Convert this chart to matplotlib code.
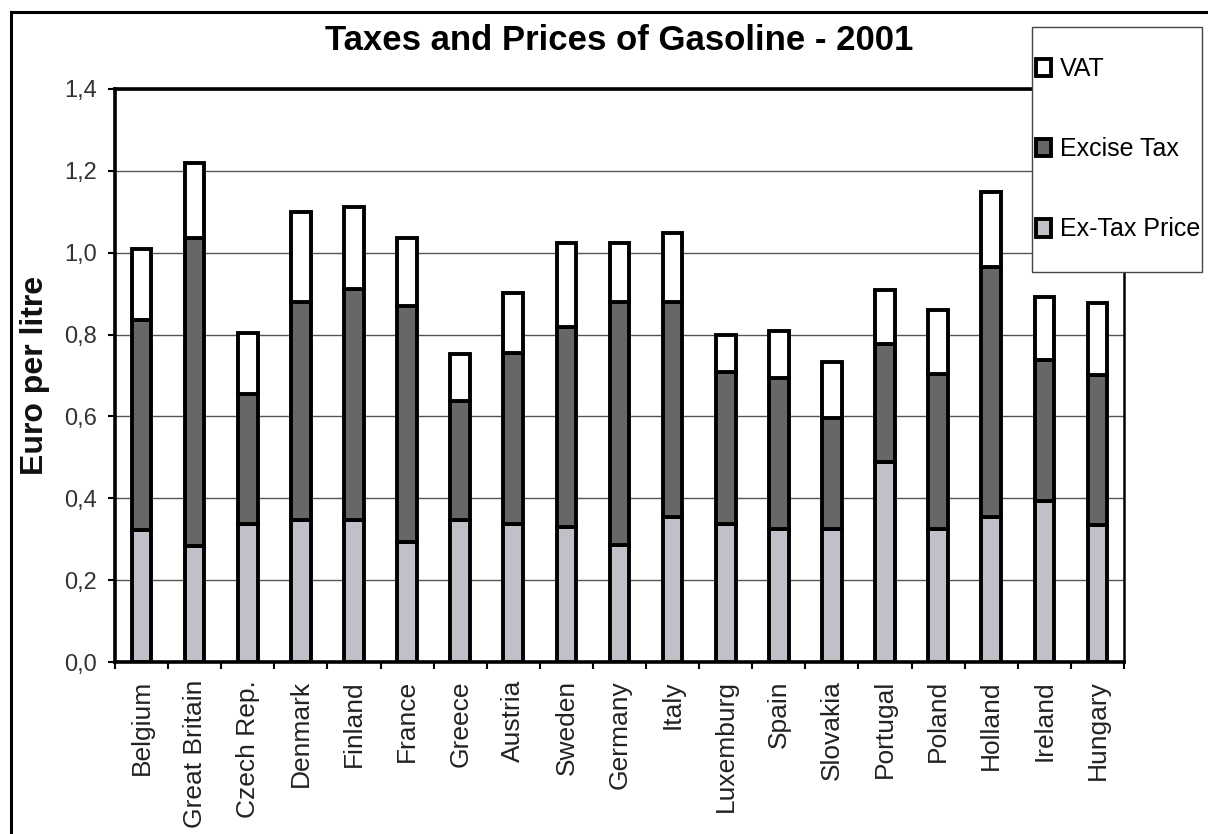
import matplotlib
matplotlib.use("Agg")
import matplotlib.pyplot as plt
from matplotlib.lines import Line2D
from matplotlib.patches import Rectangle
import numpy as np

countries = ["Belgium", "Great Britain", "Czech Rep.", "Denmark", "Finland", "France",
             "Greece", "Austria", "Sweden", "Germany", "Italy", "Luxemburg", "Spain",
             "Slovakia", "Portugal", "Poland", "Holland", "Ireland", "Hungary"]
# cumulative tops
ex_tax_price = [0.323, 0.284, 0.336, 0.346, 0.348, 0.293, 0.346, 0.338, 0.330, 0.285,
                0.355, 0.338, 0.325, 0.325, 0.488, 0.325, 0.355, 0.393, 0.335]
excise_top = [0.835, 1.037, 0.656, 0.880, 0.912, 0.870, 0.638, 0.754, 0.819, 0.880,
              0.880, 0.709, 0.695, 0.595, 0.778, 0.703, 0.966, 0.739, 0.701]
total_price = [1.010, 1.218, 0.803, 1.099, 1.111, 1.036, 0.752, 0.902, 1.023, 1.023,
               1.049, 0.799, 0.809, 0.732, 0.910, 0.860, 1.149, 0.892, 0.878]
yticks = [0.0, 0.2, 0.4, 0.6, 0.8, 1.0, 1.2, 1.4]
ytick_labels = ["0,0", "0,2", "0,4", "0,6", "0,8", "1,0", "1,2", "1,4"]

ex_tax = np.array(ex_tax_price)
excise = np.array(excise_top) - ex_tax
vat = np.array(total_price) - np.array(excise_top)

plt.rcParams['font.family'] = ['Liberation Sans', 'DejaVu Sans']
W, H = 1208, 834
fig = plt.figure(figsize=(W / 100, H / 100), dpi=100)
ax = fig.add_axes([115 / W, 1 - 662 / H, (1124 - 115) / W, (662 - 89) / H])

x = np.arange(len(countries))
bw = 0.37
lw = 2.8
c_ex = '#C0C0C8'
c_excise = '#676767'
c_vat = '#FFFFFF'
b1 = ax.bar(x, ex_tax, bw, color=c_ex, edgecolor='black', linewidth=lw, zorder=3, label='Ex-Tax Price')
b2 = ax.bar(x, excise, bw, bottom=ex_tax, color=c_excise, edgecolor='black', linewidth=lw, zorder=3, label='Excise Tax')
b3 = ax.bar(x, vat, bw, bottom=ex_tax + excise, color=c_vat, edgecolor='black', linewidth=lw, zorder=3, label='VAT')

ax.set_xlim(-0.5, len(countries) - 0.5)
ax.set_ylim(0, 1.4)
ax.set_yticks(yticks)
ax.set_yticklabels(ytick_labels, fontsize=17, color='#333333')
ax.set_xticks(x)
ax.set_xticklabels(countries, rotation=90, fontsize=19, color='#222222')
ax.set_xticks(np.arange(len(countries) + 1) - 0.5, minor=True)
ax.tick_params(axis='x', which='major', length=0, pad=13)
ax.tick_params(axis='x', which='minor', length=5, width=1.5, direction='out')
ax.tick_params(axis='y', which='major', length=5, width=1.5, direction='out', pad=8)
ax.yaxis.grid(True, color='#555555', linewidth=1.0, zorder=0)
ax.set_axisbelow(True)
for s in ['left', 'bottom', 'top']:
    ax.spines[s].set_linewidth(2.6)
    ax.spines[s].set_color('black')
ax.spines['right'].set_linewidth(1.8)

ax.set_ylabel("Euro per litre", fontsize=23, fontweight='bold', labelpad=10, color='#111111')

fig.text(619 / W, 1 - 41 / H, "Taxes and Prices of Gasoline - 2001", ha='center', va='center',
         fontsize=25, fontweight='bold')

# figure frame
fig.add_artist(Line2D([11 / W, 1.0], [1 - 12 / H, 1 - 12 / H], transform=fig.transFigure,
                      color='black', linewidth=2.2))
fig.add_artist(Line2D([11 / W, 11 / W], [1 - 12 / H, 0.0], transform=fig.transFigure,
                      color='black', linewidth=2.2))

# legend frame
fig.add_artist(Rectangle((1032 / W, 1 - 272 / H), (1202 - 1032) / W, (272 - 27) / H,
                         transform=fig.transFigure, facecolor='white', edgecolor='#444444',
                         linewidth=1.0, zorder=4))
leg = fig.legend(handles=[b3, b2, b1], labels=['VAT', 'Excise Tax', 'Ex-Tax Price'],
                 loc='upper left', bbox_to_anchor=(1036 / W, 1 - 57 / H),
                 frameon=False, fontsize=18, handlelength=0.6, handleheight=0.7,
                 handletextpad=0.35, labelspacing=2.25, borderpad=0.0, borderaxespad=0)
leg.set_zorder(5)

fig.savefig("out.png", dpi=100)
